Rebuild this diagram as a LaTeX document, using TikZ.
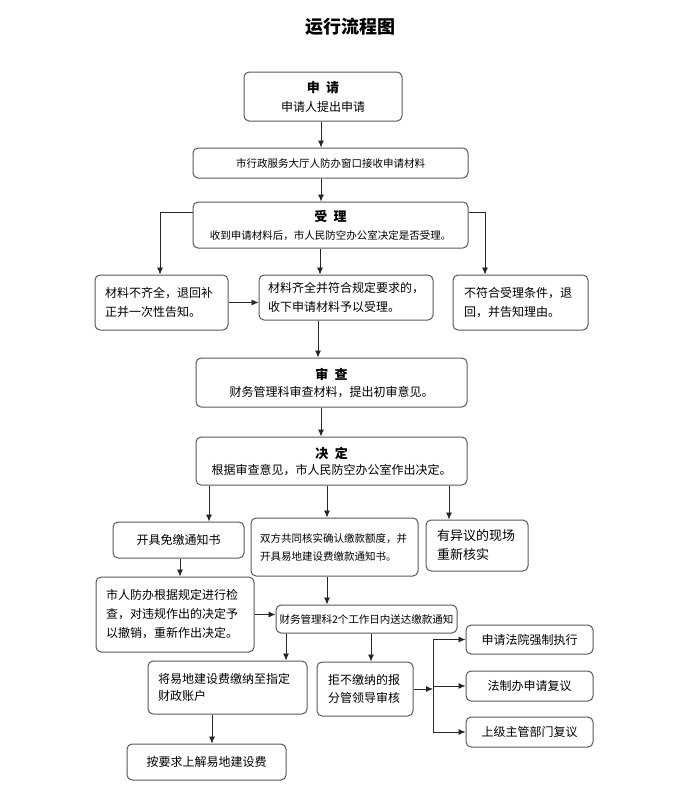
\documentclass[tikz,border=0pt]{standalone}
\usepackage{fontspec}
\setmainfont{Noto Sans CJK SC}
\usepackage{tikz}
\usetikzlibrary{arrows.meta}

\tikzset{
  box/.style={draw=black!65, rounded corners=5pt, line width=1pt, fill=white, inner sep=0pt, align=center, font=\fontsize{12}{19}\selectfont},
  lbox/.style={box, align=left},
  small/.style={font=\fontsize{10.5}{18}\selectfont},
  arr/.style={-{Latex[length=7pt,width=6pt]}, line width=0.8pt, black!85}
}
\newcommand{\head}[1]{{\fontsize{13}{19}\selectfont\bfseries #1}}

\begin{document}
\begin{tikzpicture}[x=1pt,y=-1pt]
\useasboundingbox (0,0) rectangle (700,800);

\node[font=\fontsize{18}{20}\selectfont\bfseries] (title) at (350,27) {运行流程图};

% main column
\node[box, minimum width=158, minimum height=49] (shenqing) at (323,96.5) {\head{申\enspace 请}\\申请人提出申请};
\node[box, small, minimum width=275, minimum height=30] (jieshou) at (330.5,163) {市行政服务大厅人防办窗口接收申请材料};
\node[box, small, minimum width=275, minimum height=46] (shouli) at (330.5,225) {\head{受\enspace 理}\\收到申请材料后，市人民防空办公室决定是否受理。};
\node[lbox, text width=113, minimum width=133, minimum height=55] (buqi) at (161.5,302.5) {材料不齐全，退回补\\正并一次性告知。};
\node[lbox, text width=156, minimum width=174, minimum height=45] (qiquan) at (346,297.5) {材料齐全并符合规定要求的，\\收下申请材料予以受理。};
\node[lbox, text width=113, minimum width=135, minimum height=55] (bufuhe) at (520.5,302.5) {不符合受理条件，退\\回，并告知理由。};
\node[box, minimum width=271, minimum height=49, font=\fontsize{12}{17}\selectfont] (shencha) at (331.5,382.5) {\head{审\enspace 查}\\财务管理科审查材料，提出初审意见。};
\node[box, minimum width=271, minimum height=48, font=\fontsize{12}{16}\selectfont] (jueding) at (331.5,461) {\head{决\enspace 定}\\根据审查意见，市人民防空办公室作出决定。};

% decision branches
\node[box, minimum width=131, minimum height=36] (mianjiao) at (178.5,540) {开具免缴通知书};
\node[lbox, small, text width=149, minimum width=167, minimum height=58] (hedui) at (334.5,547) {双方共同核实确认缴款额度，并\\开具易地建设费缴款通知书。};
\node[lbox, font=\fontsize{13}{19}\selectfont, text width=80, minimum width=102, minimum height=51] (yiyi) at (477,545.5) {有异议的现场\\重新核实};
\node[lbox, text width=138, minimum width=158, minimum height=75] (jiancha) at (175,614.5) {市人防办根据规定进行检\\查，对违规作出的决定予\\以撤销，重新作出决定。};
\node[box, small, minimum width=181, minimum height=28] (songda) at (366.5,619) {财务管理科2个工作日内送达缴款通知};
\node[lbox, text width=139, minimum width=159, minimum height=53, font=\fontsize{12}{17}\selectfont] (jiaona) at (227.5,687.5) {将易地建设费缴纳至指定\\财政账户};
\node[lbox, text width=74, minimum width=96, minimum height=54, font=\fontsize{12}{18}\selectfont] (jujiao) at (365,689) {拒不缴纳的报\\分管领导审核};
\node[box, minimum width=159, minimum height=36] (shangjie) at (206.5,762) {按要求上解易地建设费};
\node[box, minimum width=127, minimum height=29] (fayuan) at (529.5,639.5) {申请法院强制执行};
\node[box, minimum width=127, minimum height=30] (fuyi) at (529.5,686) {法制办申请复议};
\node[box, minimum width=127, minimum height=30] (shangji) at (529.5,732) {上级主管部门复议};

\coordinate (c1) at (209,0);
\coordinate (c2) at (327,0);
\coordinate (c3) at (449,0);
\coordinate (c5) at (286,0);
\coordinate (c6) at (371,0);
\coordinate (c7) at (212,0);
\coordinate (j) at (433,689);

\draw[arr] (shenqing.south -| 321,0) -- (jieshou.north -| 321,0);
\draw[arr] (jieshou.south -| 321,0) -- (shouli.north -| 321,0);
\draw[arr] (shouli.south -| 320,0) -- (qiquan.north -| 320,0);
\draw[arr] ([yshift=13pt]shouli.west) -| ([xshift=-1.5pt]buqi.north);
\draw[arr] ([yshift=13pt]shouli.east) -| ([xshift=-35.5pt]bufuhe.north);
\draw[arr] (buqi.east) -- (buqi.east -| qiquan.west);
\draw[arr] (qiquan.south -| 318,0) -- (shencha.north -| 318,0);
\draw[arr] (shencha.south -| 321,0) -- (jueding.north -| 321,0);
\draw[arr] (jueding.south -| c1) -- (mianjiao.north -| c1);
\draw[arr] (jueding.south -| c2) -- (hedui.north -| c2);
\draw[arr] (jueding.south -| c3) -- (yiyi.north -| c3);
\draw[arr] (mianjiao.south -| 180,0) -- (jiancha.north -| 180,0);
\draw[arr] (hedui.south -| c2) -- (songda.north -| c2);
\draw[arr] (jiancha.east) -- (jiancha.east -| songda.west);
\draw[arr] (songda.south -| c5) -- (jiaona.north -| c5);
\draw[arr] (songda.south -| c6) -- (jujiao.north -| c6);
\draw[arr] (jiaona.south -| c7) -- (shangjie.north -| c7);
\draw[arr] (jujiao.east) -- (j);
\draw[line width=0.8pt, black!85] (j |- fayuan) -- (j |- shangji);
\draw[arr] (j |- fayuan) -- (fayuan.west);
\draw[arr] (j |- fuyi) -- (fuyi.west);
\draw[arr] (j |- shangji) -- (shangji.west);
\end{tikzpicture}
\end{document}
